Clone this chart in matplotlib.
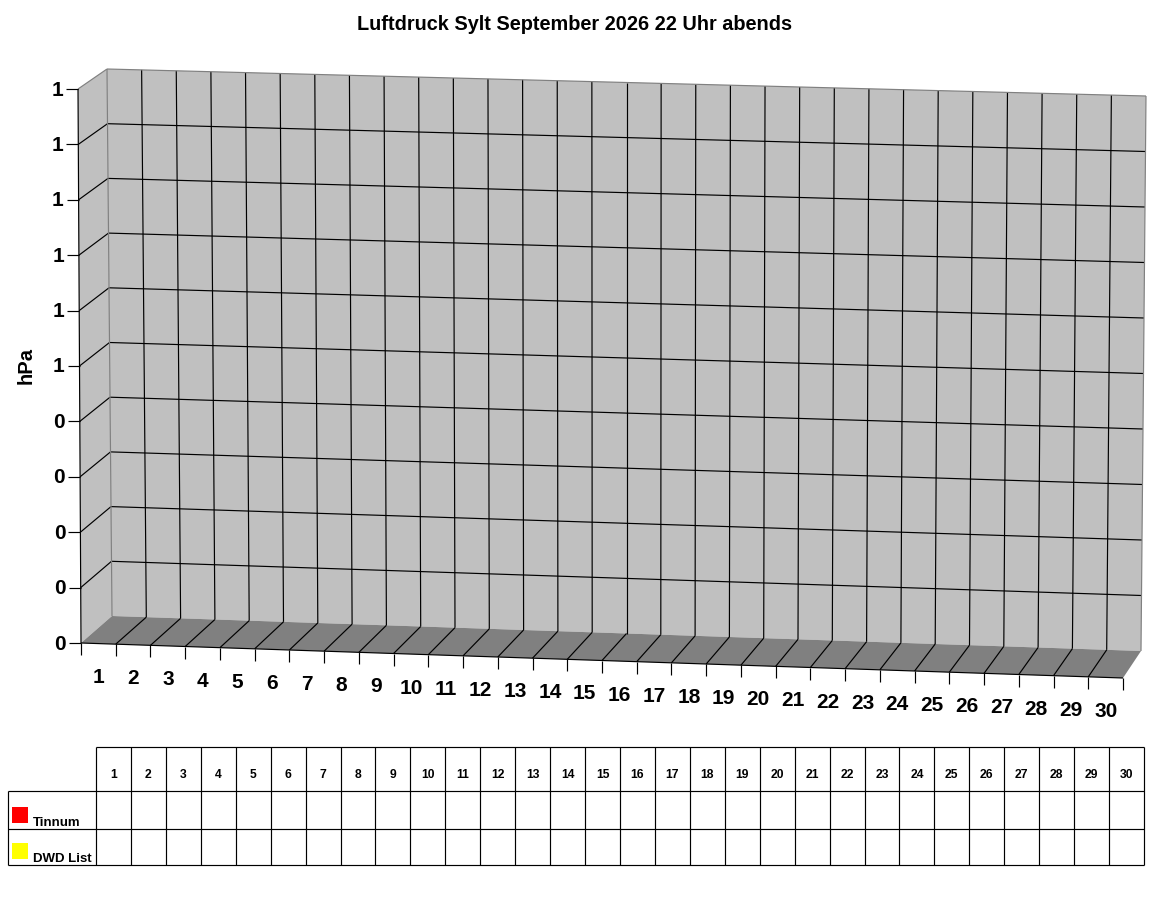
import matplotlib
matplotlib.use("Agg")
import matplotlib.pyplot as plt
from matplotlib.patches import Polygon, Rectangle
import numpy as np

# ---------------- data ----------------
title = "Luftdruck Sylt September 2026 22 Uhr abends"
y_label = "hPa"
days = [str(d) for d in range(1, 31)]
ytick_labels = ["0", "0", "0", "0", "0", "1", "1", "1", "1", "1", "1"]  # bottom -> top
series_names = ["Tinnum", "DWD List"]
series_colors = ["#ff0000", "#ffff00"]
tinnum = [np.nan] * 30      # no readings available in the chart
dwd_list = [np.nan] * 30    # no readings available in the chart
series_values = [tinnum, dwd_list]

# ---------------- layout (pixel geometry of the pseudo-3D frame) ----------------
W, H = 1152, 900
BTL, BTR = (107, 69), (1146, 96)     # back wall top corners
BBL, BBR = (112, 616), (1141, 651)   # back wall bottom corners
FTL = (78, 89)                       # front-left top
FBL, FBR = (81, 643), (1123, 678)    # front bottom corners
NX = len(days)
NY = len(ytick_labels) - 1

def back(u, v):
    s, t = u / NX, v / NY
    x = (1 - s) * (1 - t) * BBL[0] + s * (1 - t) * BBR[0] + (1 - s) * t * BTL[0] + s * t * BTR[0]
    y = (1 - s) * (1 - t) * BBL[1] + s * (1 - t) * BBR[1] + (1 - s) * t * BTL[1] + s * t * BTR[1]
    return x, y

def front_floor(u):
    s = u / NX
    return FBL[0] + s * (FBR[0] - FBL[0]), FBL[1] + s * (FBR[1] - FBL[1])

def front_left(v):
    t = v / NY
    return FBL[0] + t * (FTL[0] - FBL[0]), FBL[1] + t * (FTL[1] - FBL[1])

fig = plt.figure(figsize=(W / 100, H / 100), dpi=100)
ax = fig.add_axes([0, 0, 1, 1])
ax.set_xlim(0, W)
ax.set_ylim(H, 0)
ax.axis("off")

FONT = "Liberation Sans"
WALL = "#c0c0c0"
FLOOR = "#808080"
EDGE = "#808080"
LW = 0.85

# back wall
ax.add_patch(Polygon([back(0, 0), back(NX, 0), back(NX, NY), back(0, NY)],
                     closed=True, facecolor=WALL, edgecolor="none", zorder=1))
# left wall
ax.add_patch(Polygon([front_left(0), back(0, 0), back(0, NY), front_left(NY)],
                     closed=True, facecolor=WALL, edgecolor="none", zorder=1))
# floor
ax.add_patch(Polygon([back(0, 0), back(NX, 0), front_floor(NX), front_floor(0)],
                     closed=True, facecolor=FLOOR, edgecolor="none", zorder=1))

def seg(p, q, color="black", lw=LW, z=3):
    ax.plot([p[0], q[0]], [p[1], q[1]], color=color, lw=lw, zorder=z,
            solid_capstyle="butt")

# horizontal grid on back wall and left wall
for v in range(1, NY):
    seg(back(0, v), back(NX, v))
    seg(front_left(v), back(0, v))
# vertical grid on back wall and floor lines
for i in range(1, NX):
    seg(back(i, 0), back(i, NY))
    seg(front_floor(i), back(i, 0))

# gray edges
seg(back(0, NY), back(NX, NY), color=EDGE)
seg(front_left(NY), back(0, NY), color=EDGE)
seg(back(0, 0), back(0, NY), color=EDGE)
seg(back(NX, 0), back(NX, NY), color=EDGE)

# axes lines
seg(front_left(0), front_left(NY), z=4)
seg(front_floor(0), front_floor(NX), z=4)

# y ticks & labels
for v, lab in enumerate(ytick_labels):
    x, y = front_left(v)
    seg((x - 12, y), (x, y), z=4)
    ax.text(x - 15, y + 1, lab, ha="right", va="center", fontsize=15,
            fontweight="bold", family=FONT)

# x ticks & labels
for i in range(NX + 1):
    x, y = front_floor(i)
    seg((x, y), (x, y + 12), z=4)
for i, lab in enumerate(days):
    x, y = front_floor(i + 0.5)
    ax.text(x, y + 34, lab, ha="center", va="center", fontsize=15,
            fontweight="bold", family=FONT)

# title & axis label
ax.text(W / 2 - 1, 24, title, ha="center", va="center", fontsize=14.3,
        fontweight="bold", family=FONT)
ax.text(26, 366, y_label, ha="center", va="center", rotation=90, fontsize=14.5,
        fontweight="bold", family=FONT)

# ---------------- data table ----------------
TX0, TX1 = 96, 1144
LX0 = 8
TY = [747, 791, 829, 865]
cw = (TX1 - TX0) / NX

# horizontal lines
seg((TX0, TY[0]), (TX1, TY[0]))
for y in TY[1:]:
    seg((LX0, y), (TX1, y))
# vertical lines
for i in range(NX + 1):
    seg((TX0 + i * cw, TY[0]), (TX0 + i * cw, TY[3]))
seg((LX0, TY[1]), (LX0, TY[3]))

for i, lab in enumerate(days):
    ax.text(TX0 + (i + 0.5) * cw, 775, lab, ha="center", va="center",
            fontsize=8.7, fontweight="bold", family=FONT)

for r, (name, col, vals) in enumerate(zip(series_names, series_colors, series_values)):
    y1 = TY[r + 2]
    ax.add_patch(Rectangle((12, y1 - 22.5), 16, 16, facecolor=col, edgecolor="none", zorder=3))
    ax.text(33, y1 - 3.5, name, ha="left", va="baseline", fontsize=9.5,
            fontweight="bold", family=FONT)
    for i, val in enumerate(vals):
        if not np.isnan(val):
            ax.text(TX0 + (i + 0.5) * cw, (TY[r + 1] + y1) / 2, f"{val:g}",
                    ha="center", va="center", fontsize=8.5, family=FONT)

fig.savefig("out.png", dpi=100, facecolor="white")
